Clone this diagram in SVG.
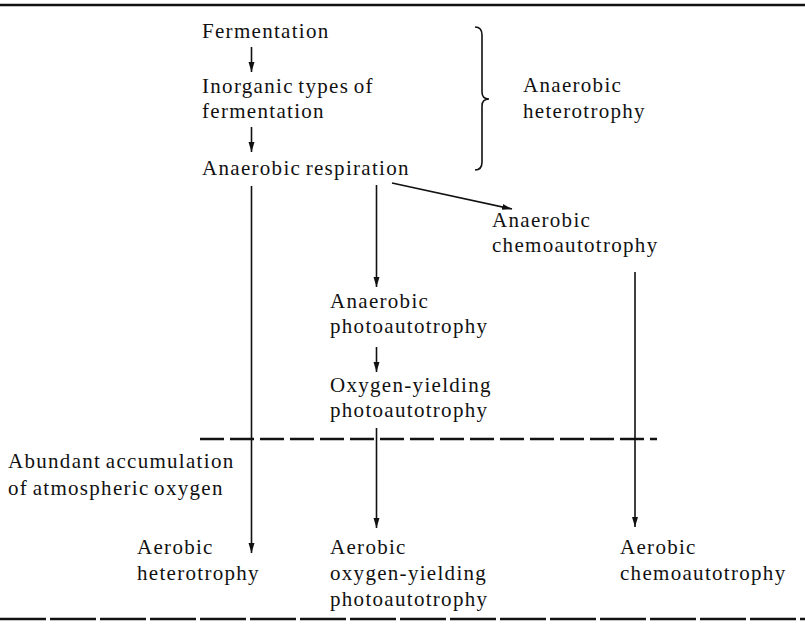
<svg xmlns="http://www.w3.org/2000/svg" width="805" height="628" viewBox="0 0 805 628">
<style>
text{font-family:"Liberation Serif","Times New Roman",serif;font-size:21px;letter-spacing:1.3px;word-spacing:-2px;fill:#111}
.c{stroke:#111;stroke-width:1.6;fill:none}
.rule{stroke:#111;stroke-width:2.5;fill:none}
</style>
<defs>
<marker id="ah" markerUnits="userSpaceOnUse" markerWidth="12" markerHeight="8" refX="10" refY="3" orient="auto">
<path d="M0,0 L10,3 L0,6 Z" fill="#111"/>
</marker>
</defs>
<line class="rule" x1="0" y1="5" x2="805" y2="5"/>
<line class="rule" x1="0" y1="619" x2="805" y2="619" stroke-dasharray="46 4" stroke-width="2"/>
<line class="rule" x1="200" y1="439" x2="657" y2="439" stroke-dasharray="24 6" stroke-width="2.2"/>
<path class="c" d="M475,27 Q482,27 482,35 L482,92 Q482,99 489,99 Q482,99 482,106 L482,162 Q482,170 475,170" stroke-width="2.2"/>
<g id="connectors">
<line class="c" x1="251.5" y1="47" x2="251.5" y2="72" marker-end="url(#ah)"/>
<line class="c" x1="251.5" y1="127" x2="251.5" y2="152" marker-end="url(#ah)"/>
<line class="c" x1="251.5" y1="186" x2="251.5" y2="553" marker-end="url(#ah)"/>
<line class="c" x1="376.5" y1="185" x2="376.5" y2="287" marker-end="url(#ah)"/>
<line class="c" x1="392" y1="183" x2="512" y2="209" marker-end="url(#ah)"/>
<line class="c" x1="376.5" y1="347" x2="376.5" y2="372" marker-end="url(#ah)"/>
<line class="c" x1="376.5" y1="428" x2="376.5" y2="528" marker-end="url(#ah)"/>
<line class="c" x1="635" y1="272" x2="635" y2="527" marker-end="url(#ah)"/>
</g>
<g id="fermentation"><text x="202" y="38">Fermentation</text></g>
<g id="inorganic"><text x="202" y="93">Inorganic types of</text><text x="202" y="118">fermentation</text></g>
<g id="anaerobic-respiration"><text x="202" y="175">Anaerobic respiration</text></g>
<g id="anaerobic-heterotrophy"><text x="523" y="92">Anaerobic</text><text x="523" y="118">heterotrophy</text></g>
<g id="anaerobic-chemoautotrophy"><text x="492" y="227">Anaerobic</text><text x="492" y="252">chemoautotrophy</text></g>
<g id="anaerobic-photoautotrophy"><text x="330" y="308">Anaerobic</text><text x="330" y="333">photoautotrophy</text></g>
<g id="oxygen-yielding"><text x="330" y="392">Oxygen-yielding</text><text x="330" y="417">photoautotrophy</text></g>
<g id="oxygen-accumulation"><text x="8" y="468">Abundant accumulation</text><text x="8" y="495">of atmospheric oxygen</text></g>
<g id="aerobic-heterotrophy"><text x="137" y="554">Aerobic</text><text x="137" y="580">heterotrophy</text></g>
<g id="aerobic-photoautotrophy"><text x="330" y="554">Aerobic</text><text x="330" y="580">oxygen-yielding</text><text x="330" y="606">photoautotrophy</text></g>
<g id="aerobic-chemoautotrophy"><text x="620" y="554">Aerobic</text><text x="620" y="580">chemoautotrophy</text></g>
</svg>
